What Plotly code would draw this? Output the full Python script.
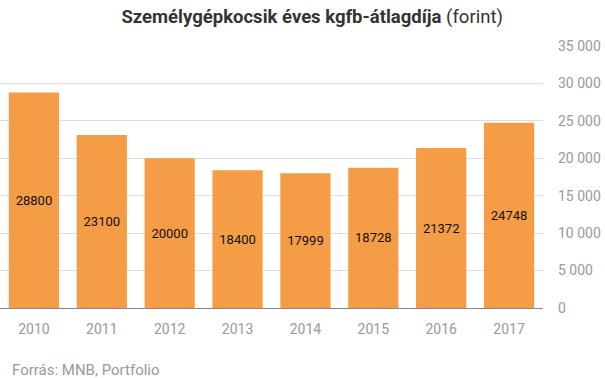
import plotly.graph_objects as go

years = ["2010", "2011", "2012", "2013", "2014", "2015", "2016", "2017"]
values = [28800, 23100, 20000, 18400, 17999, 18728, 21372, 24748]
y_ticks = [0, 5000, 10000, 15000, 20000, 25000, 30000, 35000]

fig = go.Figure(go.Bar(
    x=years, y=values,
    text=[str(v) for v in values],
    textposition="inside", insidetextanchor="middle",
    textfont=dict(family="Roboto", size=13, color="#111111"),
    marker=dict(color="#F59C46", line=dict(width=0)),
    hoverinfo="skip",
))

fig.update_layout(
    width=605, height=378,
    margin=dict(l=0, r=62, t=46, b=70, autoexpand=False),
    paper_bgcolor="white", plot_bgcolor="white",
    separators=". ",
    bargap=0.26,
    showlegend=False,
    font=dict(family="Roboto", color="#999999"),
    title=dict(
        text="<b>Személygépkocsik éves kgfb-átlagdíja</b> (forint)",
        x=0.516, xanchor="center", y=0.955, yanchor="middle",
        font=dict(family="Roboto", size=18.5, color="#333333"),
    ),
    annotations=[dict(
        text="Forrás: MNB, Portfolio", xref="paper", yref="paper",
        x=0, y=0, xshift=10, yshift=-62, xanchor="left", yanchor="middle",
        showarrow=False, font=dict(family="Roboto", size=15, color="#999999"),
    )],
)
fig.update_xaxes(
    automargin=False,
    showgrid=False, showline=True, linecolor="#888888", linewidth=1,
    tickfont=dict(family="Roboto", size=14, color="#999999"),
    ticks="", ticklabelstandoff=8,
)
fig.update_yaxes(
    automargin=False,
    side="right", range=[0, 35000], tickvals=y_ticks, tickformat=",d",
    showgrid=True, gridcolor="#DDDDDD", gridwidth=1, zeroline=False,
    tickfont=dict(family="Roboto", size=14, color="#999999"),
    ticks="", ticklabelstandoff=14,
)

fig.write_html(
    "out.html",
    config={"displayModeBar": False},
    post_script="document.body.style.margin='0';document.body.style.padding='0';",
)
